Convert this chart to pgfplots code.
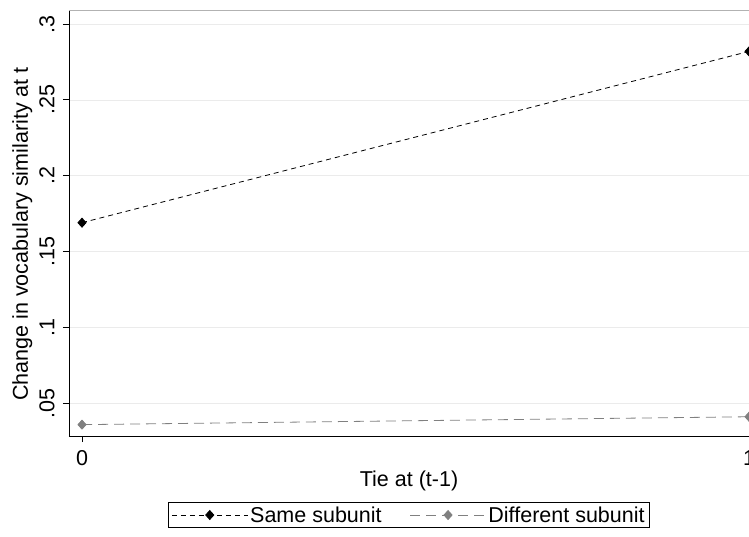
\documentclass[border=0pt]{standalone}
\usepackage{pgfplots}
\pgfplotsset{compat=1.18}
\usepackage{fontspec}
\setmainfont{Liberation Sans}
\definecolor{diffgray}{RGB}{128,128,128}
\begin{document}
\begin{tikzpicture}
\begin{axis}[name=ax, scale only axis, width=680pt, height=426pt,
  xmin=-0.0195, xmax=1.0, ymin=0.0283, ymax=0.3093,
  axis x line*=bottom, axis y line*=left,
  axis line style={black, line width=0.9pt},
  xtick={0,1}, xticklabels={0,1},
  ytick={0.05,0.1,0.15,0.2,0.25,0.3},
  yticklabels={.05,.1,.15,.2,.25,.3},
  yticklabel style={rotate=90, anchor=south},
  yticklabel shift=5pt, xticklabel shift=5pt,
  tick align=outside, major tick length=6pt,
  tick style={black, line width=0.9pt},
  ymajorgrids, grid style={black!8, line width=0.8pt},
  font=\fontsize{21.5}{25}\selectfont,
  xlabel={Tie at (t-1)}, ylabel={Change in vocabulary similarity at t},
  xlabel style={yshift=2pt},
  ylabel style={xshift=-11pt},
  legend columns=2,
  legend style={at={(0.5,-0.155)}, anchor=north, draw=black, line width=0.9pt,
    font=\fontsize{21.5}{25}\selectfont, inner xsep=3pt, inner ysep=2pt,
    /tikz/every even column/.append style={column sep=26pt}},
  legend cell align=left,
  legend image code/.code={\draw[mark repeat=2, mark phase=2, #1] plot coordinates {(0pt,0pt) (38pt,0pt) (76pt,0pt)};},
  clip=false
]
\addplot[black, line width=0.8pt, dash pattern=on 5pt off 4pt, mark=diamond*, mark size=4.5pt, mark options={solid, fill=black, xscale=1.2}]
  coordinates {(0,0.169) (1,0.282)};
\addlegendentry{Same subunit}
\addplot[diffgray, line width=0.8pt, dash pattern=on 10pt off 6pt, mark=diamond*, mark size=4.5pt, mark options={solid, fill=diffgray, xscale=1.2}]
  coordinates {(0,0.0358) (1,0.0410)};
\addlegendentry{Different subunit}
\end{axis}
\draw[black!30, line width=0.8pt] (ax.north west) -- (ax.north east);
\pgfresetboundingbox
\path[use as bounding box] ([xshift=-69pt,yshift=-100pt]ax.south west) rectangle ([yshift=10pt]ax.north east);
\end{tikzpicture}
\end{document}
